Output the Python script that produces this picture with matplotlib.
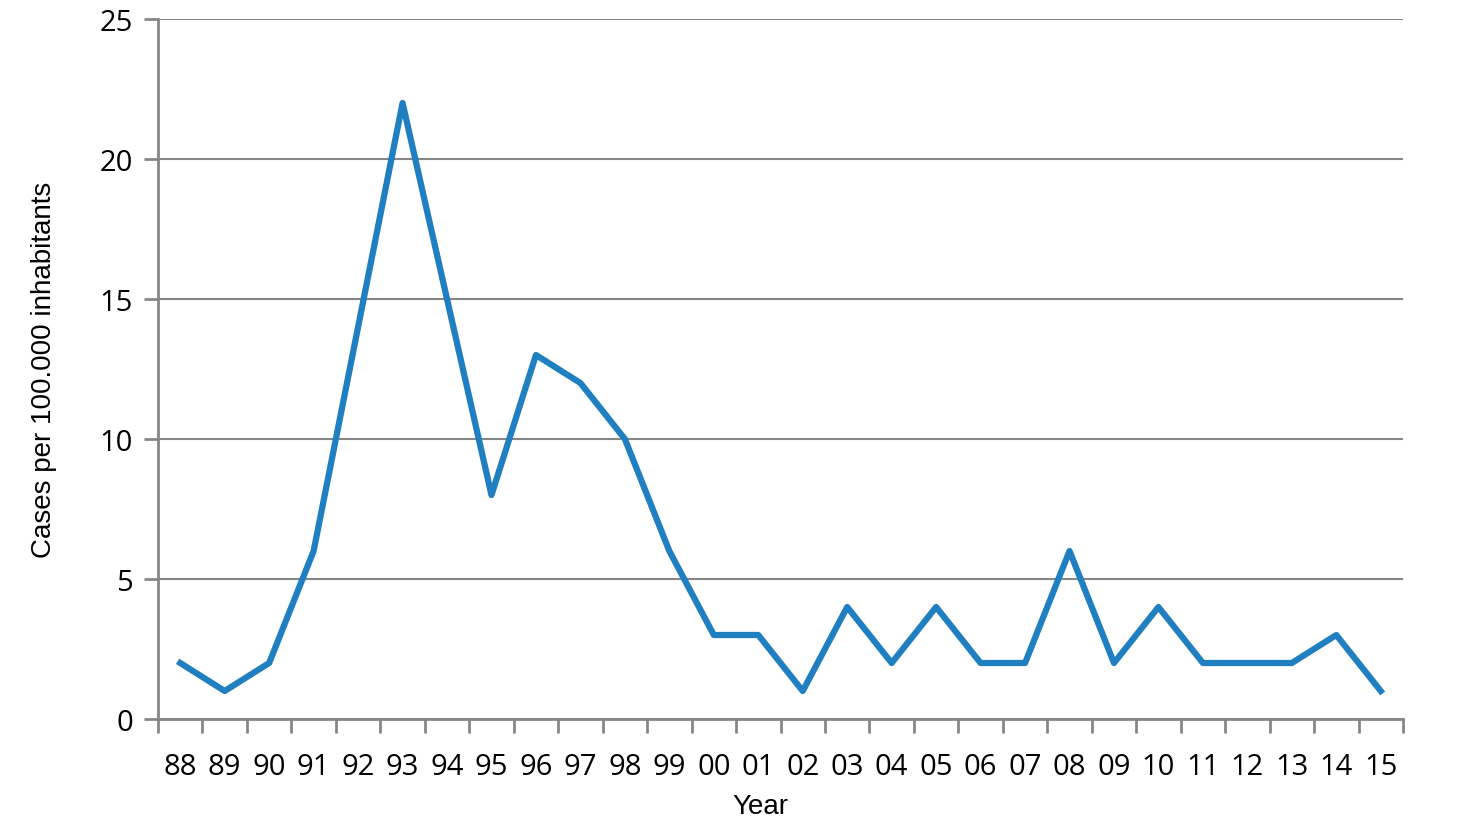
import numpy as np
import matplotlib.pyplot as plt
from matplotlib.ticker import FixedLocator

years = ['88', '89', '90', '91', '92', '93', '94', '95', '96', '97', '98', '99', '00', '01',
         '02', '03', '04', '05', '06', '07', '08', '09', '10', '11', '12', '13', '14', '15']
cases = [2, 1, 2, 6, 14, 22, 15, 8, 13, 12, 10, 6, 3, 3,
         1, 4, 2, 4, 2, 2, 6, 2, 4, 2, 2, 2, 3, 1]
y_ticks = [0, 5, 10, 15, 20, 25]

grey = '#868686'
fig = plt.figure(figsize=(14.66, 8.29), dpi=100)
ax = fig.add_axes([158 / 1466, 1 - 720 / 829, (1403 - 158) / 1466, 700 / 829])

x = np.arange(len(years))
ax.plot(x, cases, color='#1f7fc1', lw=4.5, solid_joinstyle='round', zorder=3)

ax.set_xlim(-0.5, len(years) - 0.5)
ax.set_ylim(0, 25)
ax.set_yticks(y_ticks)
ax.set_yticklabels([str(v) for v in y_ticks], fontsize=21, family='Open Sans')
ax.set_xticks(x)
ax.set_xticklabels(years, fontsize=21, family='Open Sans')
ax.xaxis.set_minor_locator(FixedLocator(np.arange(len(years) + 1) - 0.5))
ax.tick_params(axis='x', which='major', length=0, pad=24)
ax.tick_params(axis='x', which='minor', length=10, width=2, color=grey)
ax.tick_params(axis='y', length=10, width=2, color=grey, pad=8)

ax.grid(axis='y', color=grey, lw=1.5)
ax.set_axisbelow(True)
for s in ['top', 'right']:
    ax.spines[s].set_visible(False)
for s in ['left', 'bottom']:
    ax.spines[s].set_color(grey)
    ax.spines[s].set_linewidth(2)

ax.set_xlabel('Year', fontsize=20, family='Liberation Sans')
ax.xaxis.set_label_coords(0.484, -0.106)
ax.set_ylabel('Cases per 100.000 inhabitants', fontsize=20, family='Liberation Sans', labelpad=31)

fig.savefig('out.png', dpi=100)
